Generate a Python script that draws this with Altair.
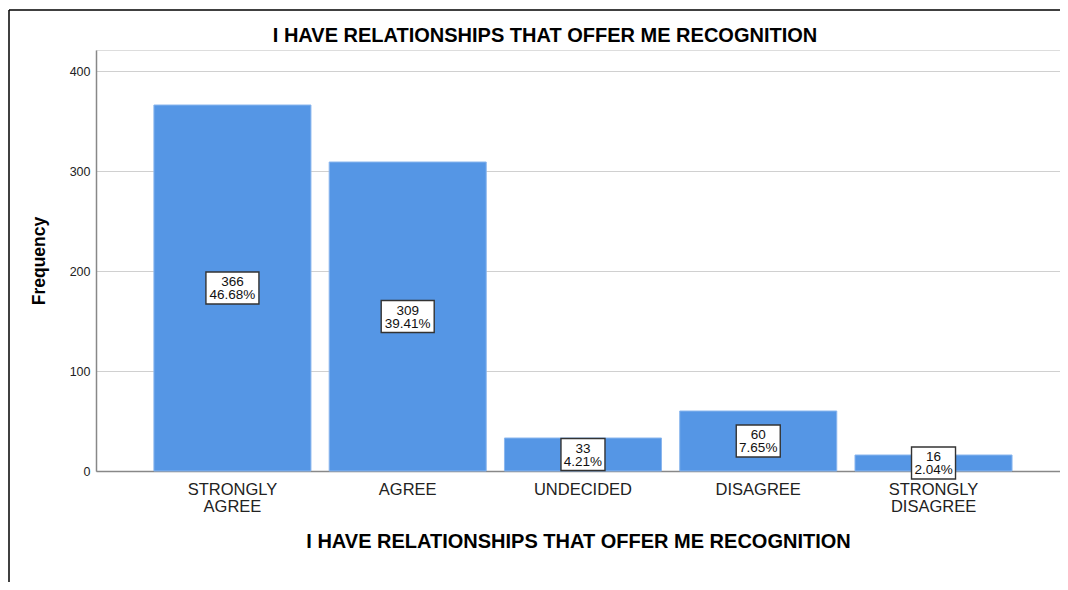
import altair as alt
import pandas as pd

categories = ["STRONGLY AGREE", "AGREE", "UNDECIDED", "DISAGREE", "STRONGLY DISAGREE"]
counts = [366, 309, 33, 60, 16]
percents = ["46.68%", "39.41%", "4.21%", "7.65%", "2.04%"]
y_ticks = [0, 100, 200, 300, 400]
title_text = "I HAVE RELATIONSHIPS THAT OFFER ME RECOGNITION"

df = pd.DataFrame({"cat": categories, "count": counts, "pct": percents})

W, H = 964, 421
FONT = "Liberation Sans"

xscale = alt.Scale(domain=categories, paddingInner=0.104, paddingOuter=0.302, align=0.547)
yscale = alt.Scale(domain=[0, 421], nice=False, zero=True)

base = alt.Chart(df)

x_enc = alt.X(
    "cat:N", scale=xscale, sort=categories,
    axis=alt.Axis(
        title=title_text, labelExpr="split(datum.label, ' ')", labelAngle=0,
        labelFont=FONT, labelFontSize=16.5, labelColor="#222222", labelLineHeight=17.5,
        labelPadding=10, ticks=False, domainColor="#888888", domainWidth=1.5,
        titleFont=FONT, titleFontSize=20, titleFontWeight="bold", titleColor="#000000",
        titlePadding=16, labelBaseline="top",
    ),
)
y_enc = alt.Y(
    "count:Q", scale=yscale,
    axis=alt.Axis(
        title="Frequency", values=y_ticks, ticks=False, grid=True,
        gridColor="#d0d0d0", gridWidth=1.2, domainColor="#888888", domainWidth=1.5,
        labelFont=FONT, labelFontSize=12.5, labelColor="#222222", labelPadding=6,
        titleFont=FONT, titleFontSize=17.5, titleFontWeight="bold", titleColor="#000000",
        titlePadding=21,
    ),
)

bars = base.mark_bar(color="#5596e5", stroke="#8ab6ee", strokeWidth=1).encode(x=x_enc, y=y_enc)

mid = base.transform_calculate(mid="datum.count / 2", lbl="datum.count + '\\n' + datum.pct")

xpos = alt.X("cat:N", scale=xscale, sort=categories)
ypos = alt.Y("mid:Q", scale=yscale)

wide_box = mid.transform_filter("length(datum.pct) > 5").mark_point(
    shape="M-1,-0.604L1,-0.604L1,0.604L-1,0.604Z", size=2809, filled=True,
    fill="white", stroke="#333333", strokeWidth=1.4, opacity=1,
).encode(x=xpos, y=ypos)

narrow_box = mid.transform_filter("length(datum.pct) <= 5").mark_point(
    shape="M-1,-0.727L1,-0.727L1,0.727L-1,0.727Z", size=1936, filled=True,
    fill="white", stroke="#333333", strokeWidth=1.4, opacity=1,
).encode(x=xpos, y=ypos)

labels = mid.mark_text(
    font=FONT, fontSize=13.5, lineBreak="\n", lineHeight=13, baseline="middle",
    align="center", color="#111111", dy=-6,
).encode(x=xpos, y=ypos, text="lbl:N")

frame_df = pd.DataFrame({"a": [0], "t": [title_text]})
frame_left = alt.Chart(frame_df).mark_rule(color="#000000", strokeWidth=1.5).encode(
    x=alt.value(-87), y=alt.value(-40), y2=alt.value(532)
)
frame_top = alt.Chart(frame_df).mark_rule(color="#000000", strokeWidth=1.5).encode(
    x=alt.value(-87), x2=alt.value(W), y=alt.value(-40)
)
top_title = alt.Chart(frame_df).mark_text(
    font=FONT, fontSize=20, fontWeight="bold", color="#000000",
    align="center", baseline="middle",
).encode(x=alt.value(W / 2 - 33), y=alt.value(-14), text="t:N")

chart = alt.layer(bars, wide_box, narrow_box, labels, frame_left, frame_top, top_title).properties(
    width=W, height=H,
    autosize=alt.AutoSizeParams(type="none"),
    padding={"left": 88, "top": 42, "right": 0, "bottom": 119},
).configure_view(stroke=None).configure(background="white")

chart.save("out.html", embed_options={"renderer": "svg", "actions": False})
